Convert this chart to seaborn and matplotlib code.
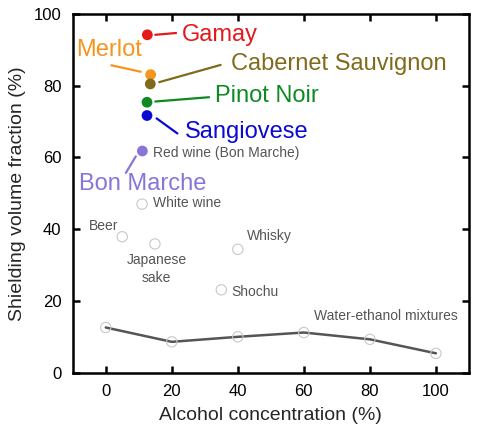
import numpy as np
import pandas as pd
import matplotlib
matplotlib.use('Agg')
import matplotlib.pyplot as plt
import seaborn as sns

# ── data ───────────────────────────────────────────────────────────────────
# red wines (coloured, labelled large)
wine_names = ['Gamay', 'Merlot', 'Cabernet Sauvignon', 'Pinot Noir', 'Sangiovese', 'Bon Marche']
wine_alc = [12.6, 13.6, 13.5, 12.5, 12.5, 11.1]
wine_shield = [94.2, 83.1, 80.5, 75.4, 71.7, 61.8]
wine_colors = ['#e3191c', '#f7941d', '#806b1c', '#0e8a22', '#0a0ad2', '#8a74d8']

# other beverages (open circles)
bev_names = ['White wine', 'Beer', 'Japanese\nsake', 'Shochu', 'Whisky']
bev_alc = [11.0, 5.0, 14.9, 35.0, 40.0]
bev_shield = [47.0, 37.9, 35.9, 23.1, 34.4]

# water-ethanol mixtures
mix_alc = [0, 20, 40, 60, 80, 100]
mix_shield = [12.6, 8.6, 10.0, 11.2, 9.3, 5.4]

sns.set_style('ticks')
plt.rcParams['font.family'] = ['Liberation Sans', 'DejaVu Sans']

fig = plt.figure(figsize=(4.79, 4.32), dpi=100)
ax = fig.add_axes([0.1518, 0.1373, 0.979 - 0.1518, 0.9676 - 0.1373])

mix_df = pd.DataFrame({'alc': mix_alc, 'shield': mix_shield})
sns.lineplot(data=mix_df, x='alc', y='shield', ax=ax, color='#555555', linewidth=1.8, zorder=2)
sns.scatterplot(data=mix_df, x='alc', y='shield', ax=ax, s=55, facecolor='none',
                edgecolor='#c8c8c8', linewidth=0.8, zorder=3)

bev_df = pd.DataFrame({'alc': bev_alc, 'shield': bev_shield})
sns.scatterplot(data=bev_df, x='alc', y='shield', ax=ax, s=55, facecolor='none',
                edgecolor='#c8c8c8', linewidth=0.8, zorder=3)

wine_df = pd.DataFrame({'name': wine_names, 'alc': wine_alc, 'shield': wine_shield})
sns.scatterplot(data=wine_df, x='alc', y='shield', hue='name', palette=wine_colors,
                ax=ax, s=60, edgecolor='none', legend=False, zorder=4)

# big labels with leader lines: (text x, text y, ha, line start, line end)
big = {
    'Gamay':              (23.1, 94.2, 'left',   (15.0, 94.2), (21.3, 94.7)),
    'Merlot':             (1.0, 90.0, 'center',  (1.7, 85.7), (10.6, 83.9)),
    'Cabernet Sauvignon': (37.9, 86.0, 'left',   (16.2, 81.0), (34.8, 85.8)),
    'Pinot Noir':         (33.1, 77.0, 'left',   (15.0, 75.6), (31.3, 76.8)),
    'Sangiovese':         (24.1, 67.1, 'left',   (15.4, 70.9), (21.7, 66.7)),
    'Bon Marche':         (11.2, 52.5, 'center', (9.1, 60.3), (6.1, 55.7)),
}
for name, col in zip(wine_names, wine_colors):
    tx, ty, ha, p0, p1 = big[name]
    ax.plot([p0[0], p1[0]], [p0[1], p1[1]], color=col, lw=1.6, zorder=3)
    ax.text(tx, ty, name, color=col, fontsize=17, ha=ha, va='center')

small_color = '#555555'
ax.text(14.2, 61.2, 'Red wine (Bon Marche)', fontsize=10, color=small_color, va='center')
ax.text(14.2, 47.2, 'White wine', fontsize=10, color=small_color, va='center')
ax.text(-0.6, 41.0, 'Beer', fontsize=10, color=small_color, va='center', ha='center')
ax.text(15.4, 28.9, 'Japanese\nsake', fontsize=10, color=small_color, va='center', ha='center',
        linespacing=1.3)
ax.text(38.0, 22.4, 'Shochu', fontsize=10, color=small_color, va='center')
ax.text(42.8, 38.1, 'Whisky', fontsize=10, color=small_color, va='center')
ax.text(63.2, 15.9, 'Water-ethanol mixtures', fontsize=10, color=small_color, va='center')

ax.set_xlim(-10, 110)
ax.set_ylim(0, 100)
ax.set_xticks([0, 20, 40, 60, 80, 100])
ax.set_yticks([0, 20, 40, 60, 80, 100])
ax.tick_params(direction='in', length=5, width=1.8, labelsize=12, top=True, right=True,
               labeltop=False, labelright=False, pad=8, colors='black')
for sp in ax.spines.values():
    sp.set_visible(True)
    sp.set_linewidth(1.8)
    sp.set_color('black')
ax.set_xlabel('Alcohol concentration (%)', fontsize=14, labelpad=6)
ax.set_ylabel('Shielding volume fraction (%)', fontsize=14, labelpad=6)

fig.savefig('out.png', dpi=100)
